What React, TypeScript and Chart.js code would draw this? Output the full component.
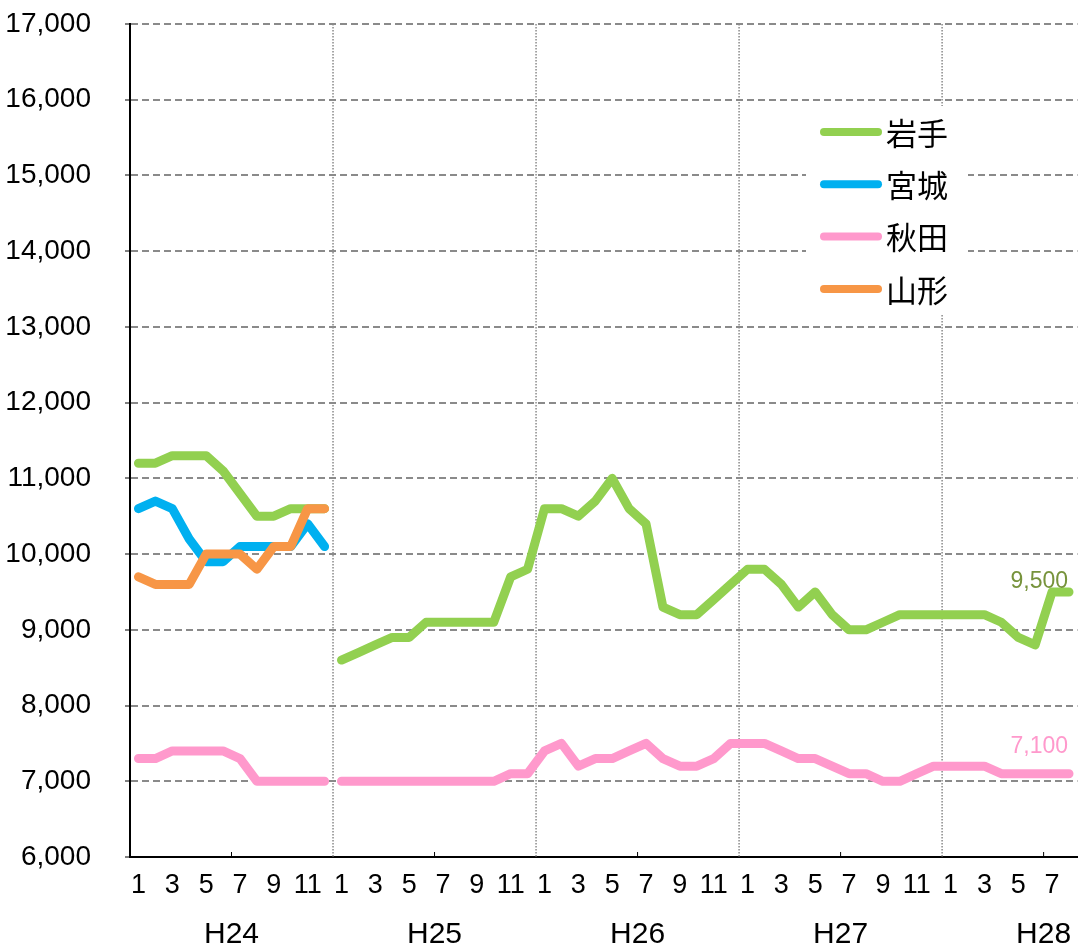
import React, { useEffect, useRef } from 'react';
import { Chart, registerables } from 'chart.js';

Chart.register(...registerables);

// ---- data ----
const years = ['H24', 'H25', 'H26', 'H27', 'H28'];
const monthsPerYear = [12, 12, 12, 12, 8];
const monthLabels: string[] = years.flatMap((_, i) =>
  Array.from({ length: monthsPerYear[i] }, (_, m) => String(m + 1))
);

const iwate = [
  11200, 11200, 11300, 11300, 11300, 11100, 10800, 10500, 10500, 10600, 10600, 10600,
  8600, 8700, 8800, 8900, 8900, 9100, 9100, 9100, 9100, 9100, 9700, 9800,
  10600, 10600, 10500, 10700, 11000, 10600, 10400, 9300, 9200, 9200, 9400, 9600,
  9800, 9800, 9600, 9300, 9500, 9200, 9000, 9000, 9100, 9200, 9200, 9200,
  9200, 9200, 9200, 9100, 8900, 8800, 9500, 9500,
];
const miyagi = [
  10600, 10700, 10600, 10200, 9900, 9900, 10100, 10100, 10100, 10100, 10400, 10100,
];
const akita = [
  7300, 7300, 7400, 7400, 7400, 7400, 7300, 7000, 7000, 7000, 7000, 7000,
  7000, 7000, 7000, 7000, 7000, 7000, 7000, 7000, 7000, 7000, 7100, 7100,
  7400, 7500, 7200, 7300, 7300, 7400, 7500, 7300, 7200, 7200, 7300, 7500,
  7500, 7500, 7400, 7300, 7300, 7200, 7100, 7100, 7000, 7000, 7100, 7200,
  7200, 7200, 7200, 7100, 7100, 7100, 7100, 7100,
];
const yamagata = [
  9700, 9600, 9600, 9600, 10000, 10000, 10000, 9800, 10100, 10100, 10600, 10600,
];

const seriesNames = ['岩手', '宮城', '秋田', '山形'];
const yMin = 6000;
const yMax = 17000;
const yStep = 1000;

// ---- styles ----
const COLORS = ['#92D050', '#00B0F0', '#FF99CC', '#F79646'];
const ORDERS = [3, 2, 1, 0];
const END_LABELS: Record<string, { color: string; dy: number }> = {
  '岩手': { color: '#77933C', dy: -4 },
  '秋田': { color: '#FF99CC', dy: -21 },
};
const TICK_FONT = "'Liberation Sans', Arial, sans-serif";
const CJK_FONT = "'Noto Sans CJK JP', 'Noto Sans', sans-serif";

const pad = (arr: number[]) =>
  monthLabels.map((_, i) => (i < arr.length ? arr[i] : null));

const decorPlugin = {
  id: 'decor',
  beforeDatasetsDraw(chart: any) {
    const { ctx, chartArea, scales } = chart;
    const x = scales.x;
    ctx.save();
    let start = 0;
    years.forEach((_, yi) => {
      const n = monthsPerYear[yi];
      if (yi > 0) {
        const bx = (x.getPixelForValue(start - 1) + x.getPixelForValue(start)) / 2;
        ctx.strokeStyle = '#8a8a8a';
        ctx.lineWidth = 1.5;
        ctx.setLineDash([1.5, 1.5]);
        ctx.beginPath();
        ctx.moveTo(bx, chartArea.top);
        ctx.lineTo(bx, chartArea.bottom);
        ctx.stroke();
      }
      if (n > 6) {
        const hx = (x.getPixelForValue(start + 5) + x.getPixelForValue(start + 6)) / 2;
        ctx.setLineDash([]);
        ctx.strokeStyle = '#000';
        ctx.lineWidth = 1;
        ctx.beginPath();
        ctx.moveTo(hx, chartArea.bottom);
        ctx.lineTo(hx, chartArea.bottom - 5);
        ctx.stroke();
      }
      start += n;
    });
    ctx.restore();
  },
  afterDraw(chart: any) {
    const { ctx, scales, chartArea } = chart;
    const x = scales.x;
    ctx.save();
    ctx.fillStyle = '#000';
    ctx.font = `30px ${TICK_FONT}`;
    ctx.textAlign = 'center';
    ctx.textBaseline = 'middle';
    let start = 0;
    years.forEach((yl, yi) => {
      const cx = (x.getPixelForValue(start + 5) + x.getPixelForValue(start + 6)) / 2;
      ctx.fillText(yl, cx, chartArea.bottom + 78);
      start += monthsPerYear[yi];
    });

    chart.data.datasets.forEach((ds: any, di: number) => {
      const st = END_LABELS[ds.label];
      if (!st) return;
      const meta = chart.getDatasetMeta(di);
      let last = ds.data.length - 1;
      while (last >= 0 && ds.data[last] == null) last--;
      const pt = meta.data[last];
      ctx.font = `23px ${TICK_FONT}`;
      ctx.fillStyle = st.color;
      ctx.textAlign = 'right';
      ctx.textBaseline = 'alphabetic';
      ctx.fillText(Number(ds.data[last]).toLocaleString('en-US'), pt.x - 1, pt.y + st.dy);
    });

    const lx = 806, ly = 106, lw = 162, lh = 208;
    ctx.fillStyle = '#fff';
    ctx.fillRect(lx, ly, lw, lh);
    chart.data.datasets.forEach((ds: any, di: number) => {
      const cy = 132 + di * 52.3;
      ctx.strokeStyle = ds.borderColor;
      ctx.lineWidth = 8;
      ctx.lineCap = 'round';
      ctx.beginPath();
      ctx.moveTo(824, cy);
      ctx.lineTo(878, cy);
      ctx.stroke();
      ctx.fillStyle = '#000';
      ctx.font = `31px ${CJK_FONT}`;
      ctx.textAlign = 'left';
      ctx.textBaseline = 'middle';
      ctx.fillText(ds.label, 886, cy + 1);
    });
    ctx.restore();
  },
};

export default function App() {
  const ref = useRef<HTMLCanvasElement>(null);

  useEffect(() => {
    document.body.style.margin = '0';
    const canvas = ref.current;
    if (!canvas) return;
    const seriesData = [iwate, miyagi, akita, yamagata];
    const chart = new Chart(canvas, {
      type: 'line',
      data: {
        labels: monthLabels,
        datasets: seriesNames.map((name, i) => ({
          label: name,
          data: pad(seriesData[i]),
          borderColor: COLORS[i],
          backgroundColor: COLORS[i],
          borderWidth: 9,
          pointRadius: 0,
          pointHoverRadius: 0,
          borderCapStyle: 'round',
          borderJoinStyle: 'round',
          tension: 0,
          spanGaps: false,
          order: ORDERS[i],
          segment: {
            borderColor: (c: any) => (c.p0DataIndex === monthsPerYear[0] - 1 ? 'rgba(0,0,0,0)' : undefined),
          },
        })),
      },
      options: {
        responsive: false,
        animation: false,
        layout: { padding: { top: 0, left: 0, right: 0, bottom: 0 } },
        plugins: {
          legend: { display: false },
          tooltip: { enabled: false },
        },
        scales: {
          x: {
            type: 'category',
            offset: true,
            grid: { display: false, drawTicks: false },
            border: { display: true, color: '#000', width: 2 },
            ticks: {
              autoSkip: false,
              maxRotation: 0,
              minRotation: 0,
              padding: 12,
              color: '#000',
              font: { family: TICK_FONT, size: 27 },
              callback: function (this: any, val: any) {
                const l = Number(this.getLabelForValue(val));
                return l % 2 === 1 ? String(l) : '';
              },
            },
            afterFit: (s: any) => {
              s.height = 90;
            },
          },
          y: {
            min: yMin,
            max: yMax,
            grid: {
              color: (c: any) => (c.tick && c.tick.value === yMin ? 'rgba(0,0,0,0)' : '#8a8a8a'),
              lineWidth: 2,
              tickLength: 5,
              tickColor: '#000',
              tickWidth: 1,
              tickBorderDash: [],
            },
            border: { display: true, color: '#000', width: 2, dash: [7, 4] },
            ticks: {
              stepSize: yStep,
              padding: 34,
              color: '#000',
              font: { family: TICK_FONT, size: 28 },
              callback: (v: any) => Number(v).toLocaleString('en-US'),
            },
            afterFit: (s: any) => {
              s.width = 130;
              s.paddingTop = 24;
              s.paddingBottom = 0;
            },
          },
        },
      },
      plugins: [decorPlugin],
    } as any);
    return () => chart.destroy();
  }, []);

  return (
    <div style={{ position: 'absolute', left: 0, top: 0, width: 1081, height: 947 }}>
      <canvas ref={ref} width={1081} height={947} style={{ display: 'block' }} />
    </div>
  );
}
